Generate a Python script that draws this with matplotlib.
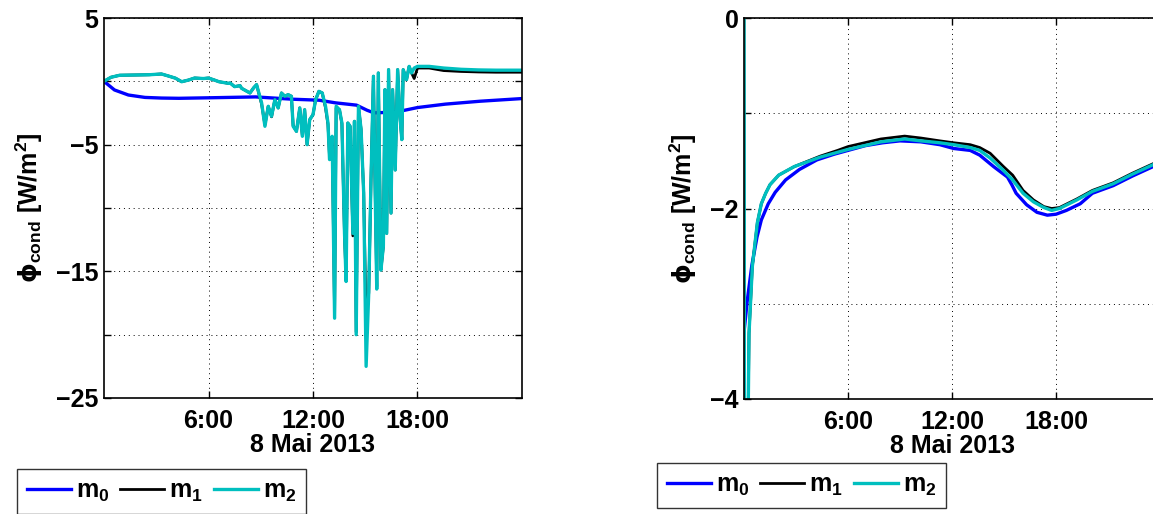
import matplotlib
matplotlib.use('Agg')
import matplotlib.pyplot as plt
from matplotlib.lines import Line2D

plt.rcParams['font.family'] = ['Liberation Sans', 'DejaVu Sans']
plt.rcParams['font.weight'] = 'bold'
plt.rcParams['mathtext.fontset'] = 'custom'
plt.rcParams['mathtext.rm'] = 'Liberation Sans:bold'
plt.rcParams['mathtext.bf'] = 'Liberation Sans:bold'
plt.rcParams['mathtext.it'] = 'Liberation Sans:bold'
plt.rcParams['mathtext.sf'] = 'DejaVu Sans'

# ---- left panel: conduction flux, 8 May 2013 (hours of the day)
left_t_m0 = [0.0, 0.6, 1.4, 2.35, 3.3, 4.3, 6.0, 8.7, 10.8, 12.35, 13.3, 14.5,
             15.1, 15.5, 16.3, 17.1, 18.0, 19.6, 21.6, 24.0]
left_m0 = [0.0, -0.68, -1.08, -1.27, -1.32, -1.34, -1.30, -1.23, -1.41, -1.49, -1.70, -1.88,
           -2.28, -2.49, -2.45, -2.33, -2.07, -1.80, -1.57, -1.36]

left_t_m2 = [0.0, 0.4, 0.9, 1.8, 2.6, 3.3, 3.7, 4.1, 4.46, 4.85, 5.2, 5.7, 6.0, 6.3, 6.6,
             7.15, 7.24, 7.5, 7.81, 7.9, 8.38, 8.6, 8.76, 9.05, 9.24, 9.43, 9.62, 9.81,
             10.0, 10.19, 10.38, 10.57, 10.76, 10.86, 11.05, 11.24, 11.39, 11.52, 11.66,
             11.81, 12.0, 12.15, 12.34, 12.53, 12.72, 12.86, 12.95, 13.1, 13.24, 13.33,
             13.52, 13.66, 13.81, 13.9, 14.0, 14.13, 14.29, 14.38, 14.48, 14.61, 14.76,
             14.91, 15.05, 15.2, 15.33, 15.47, 15.56, 15.66, 15.75, 15.9, 16.04, 16.13,
             16.23, 16.34, 16.48, 16.57, 16.72, 16.86, 16.99, 17.1, 17.18, 17.37, 17.52,
             17.66, 17.81, 18.0, 18.67, 19.5, 20.5, 21.5, 22.5, 24.0]
left_m2 = [0.0, 0.32, 0.48, 0.50, 0.52, 0.58, 0.42, 0.25, -0.03, 0.10, 0.26, 0.22, 0.26, 0.12, -0.03,
           -0.16, -0.13, -0.42, -0.34, -0.55, -0.92, -0.50, -0.26, -1.71, -3.55, -1.97, -2.76, -1.45,
           -2.10, -0.92, -1.18, -1.05, -1.18, -3.55, -3.95, -2.10, -4.34, -2.24, -5.00,
           -3.03, -2.63, -1.45, -0.79, -0.92, -1.97, -3.29, -6.18, -4.34, -18.7, -1.97,
           -2.24, -3.29, -12.0, -15.8, -3.29, -3.55, -12.0, -3.16, -20.0, -1.97, -3.80,
           -8.80, -22.5, -16.7, -7.76, 0.40, -7.76, -16.4, 0.66, -14.9, -13.0, -0.66,
           -12.0, 0.92, -10.4, -0.66, -7.00, 0.92, -2.76, -4.60, 0.92, 0.13, 1.18,
           0.66, 1.05, 1.18, 1.18, 1.05, 0.95, 0.90, 0.88, 0.88]
left_m1 = [0.0, 0.32, 0.48, 0.50, 0.52, 0.58, 0.42, 0.25, -0.03, 0.10, 0.26, 0.22, 0.26, 0.12, -0.03,
           -0.16, -0.13, -0.42, -0.34, -0.55, -0.92, -0.50, -0.26, -1.80, -3.45, -1.97, -2.80, -1.45,
           -2.10, -0.92, -1.18, -1.05, -1.18, -3.50, -3.95, -2.10, -4.30, -2.24, -5.00,
           -3.03, -2.63, -1.45, -0.79, -0.92, -2.10, -3.40, -6.00, -4.40, -18.5, -2.10,
           -2.24, -3.35, -12.2, -15.6, -3.29, -3.55, -12.2, -3.16, -19.8, -1.97, -3.80,
           -8.80, -19.0, -16.7, -7.76, 0.40, -7.76, -16.2, 0.66, -14.9, -13.0, -0.66,
           -12.0, 0.92, -10.4, -0.66, -7.00, 0.92, -2.76, -4.60, 0.92, 0.13, 1.18,
           0.66, 0.22, 1.05, 1.05, 0.85, 0.78, 0.74, 0.72, 0.72]

# ---- right panel
right_t_m0 = [0.0, 0.2, 0.45, 0.75, 1.0, 1.4, 1.8, 2.4, 3.2, 4.2, 5.2, 6.0, 7.0, 8.0, 9.0,
              10.2, 11.3, 12.1, 13.05, 13.6, 14.4, 15.2, 15.45, 15.7, 16.3, 16.9, 17.5,
              18.0, 18.6, 19.4, 20.1, 21.3, 22.4, 23.6, 24.0]
right_m0 = [-3.30, -2.95, -2.60, -2.30, -2.12, -1.95, -1.83, -1.70, -1.59, -1.49, -1.43, -1.39,
            -1.34, -1.31, -1.29, -1.30, -1.33, -1.37, -1.39, -1.44, -1.56, -1.67, -1.75,
            -1.84, -1.96, -2.04, -2.07, -2.06, -2.02, -1.95, -1.84, -1.76, -1.66, -1.56, -1.53]

right_t_m2 = [0.0, 0.03, 0.2, 0.25, 0.29, 0.48, 0.77, 1.0, 1.25, 1.5, 2.0, 2.9, 4.4, 5.4,
              6.0, 7.9, 9.27, 10.2, 11.3, 12.1, 13.05, 13.6, 14.2, 14.97, 15.5, 16.1, 16.7,
              17.3, 17.75, 18.2, 19.2, 20.1, 21.3, 22.4, 23.6, 24.0]
right_m2 = [0.0, -5.5, -5.0, -4.0, -3.31, -2.61, -2.15, -1.95, -1.84, -1.75, -1.65, -1.56,
            -1.46, -1.41, -1.38, -1.30, -1.27, -1.29, -1.31, -1.33, -1.36, -1.39, -1.47,
            -1.60, -1.70, -1.84, -1.93, -1.99, -2.02, -2.00, -1.91, -1.82, -1.74, -1.64, -1.54, -1.51]
right_m1 = [0.0, -5.5, -5.0, -4.0, -3.31, -2.61, -2.15, -1.95, -1.84, -1.75, -1.65, -1.56,
            -1.45, -1.39, -1.35, -1.27, -1.24, -1.26, -1.29, -1.31, -1.33, -1.36, -1.42,
            -1.56, -1.65, -1.81, -1.91, -1.98, -2.00, -1.99, -1.90, -1.81, -1.73, -1.63, -1.53, -1.50]

hour_ticks = [6, 12, 18]
hour_labels = ['6:00', '12:00', '18:00']
date_label = '8 Mai 2013'
ylabel = r'$\mathsf{\phi}_{\mathbf{cond}}\ \mathbf{[W/m^2]}$'
names = [r'$\mathbf{m_0}$', r'$\mathbf{m_1}$', r'$\mathbf{m_2}$']
colors = ['#0000ff', '#000000', '#00bfbf']
FS = 18

W, H = 1153, 514
fig = plt.figure(figsize=(W / 100, H / 100), dpi=100)


def style_axes(ax, yticks, ylabels, ylim):
    ax.set_xlim(0, 24)
    ax.set_ylim(*ylim)
    ax.set_xticks(hour_ticks, hour_labels)
    ax.set_yticks(yticks, ylabels)
    ax.tick_params(direction='in', top=True, right=True, length=5, width=1,
                   labelsize=FS)
    ax.tick_params(axis='x', pad=8)
    ax.tick_params(axis='y', pad=4)
    for lab in ax.get_xticklabels() + ax.get_yticklabels():
        lab.set_fontweight('bold')
    ax.grid(True, color='k', linestyle=(0, (1, 4)), linewidth=0.7)
    for sp in ax.spines.values():
        sp.set_linewidth(1.2)
    ax.set_xlabel(date_label, fontsize=FS, fontweight='bold', labelpad=0)
    ax.set_ylabel(ylabel, fontsize=FS, labelpad=8)


def legend(ax, x, y):
    handles = [Line2D([], [], color=c, lw=lw) for c, lw in zip(colors, [2.4, 2.0, 2.4])]
    fig.legend(handles, names, loc='upper left', bbox_to_anchor=(x / W, 1 - y / H),
               ncol=3, fontsize=FS, frameon=True, fancybox=False, edgecolor='k',
               handlelength=1.75, handletextpad=0.2, columnspacing=0.45,
               borderpad=0.4, borderaxespad=0).get_frame().set_linewidth(1.0)


ax1 = fig.add_axes([104 / W, 1 - 398 / H, 418 / W, 380 / H])
ax1.plot(left_t_m0, left_m0, color=colors[0], lw=2.4)
ax1.plot(left_t_m2, left_m1, color=colors[1], lw=2.0)
ax1.plot(left_t_m2, left_m2, color=colors[2], lw=2.4)
style_axes(ax1, [-25, -20, -15, -10, -5, 0, 5],
           ['\u221225', '', '\u221215', '', '\u22125', '', '5'], (-25, 5))
legend(ax1, 17, 469)

ax2 = fig.add_axes([744 / W, 1 - 399 / H, 416 / W, 381 / H])
ax2.plot(right_t_m0, right_m0, color=colors[0], lw=2.4)
ax2.plot(right_t_m2, right_m1, color=colors[1], lw=2.0)
ax2.plot(right_t_m2, right_m2, color=colors[2], lw=2.4)
style_axes(ax2, [-4, -3, -2, -1, 0], ['\u22124', '', '\u22122', '', '0'], (-4, 0))
legend(ax2, 657, 463)

fig.savefig('out.png', dpi=100)
